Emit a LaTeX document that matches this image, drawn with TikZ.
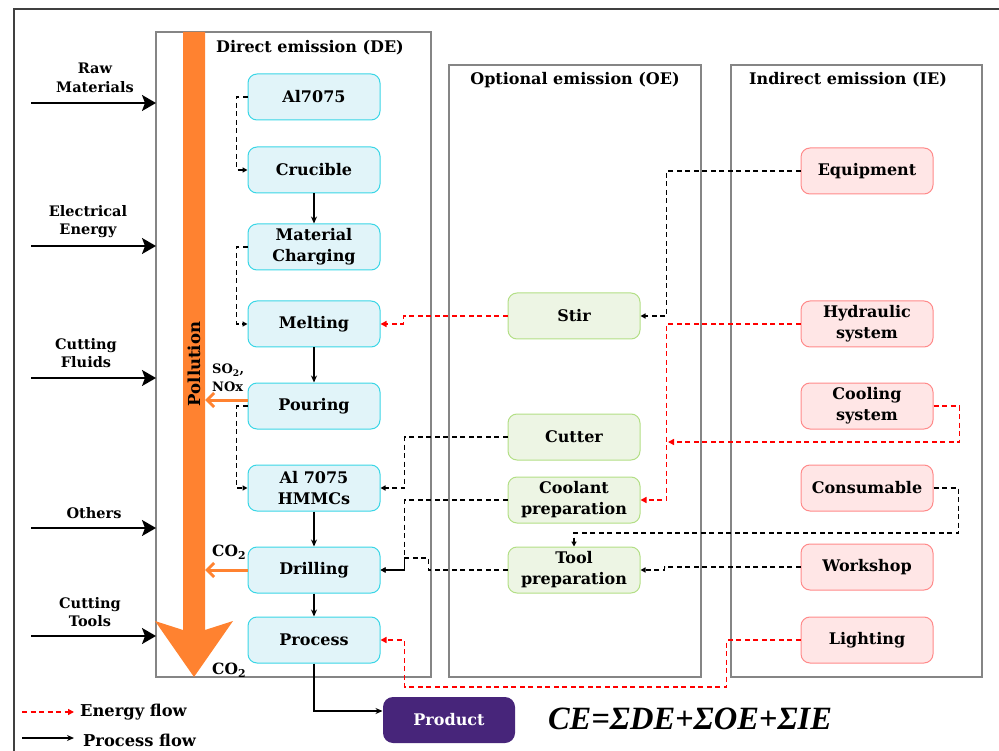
\documentclass[tikz,border=0pt]{standalone}
\usepackage{fontspec}
\setmainfont{DejaVu Serif}
\newfontfamily\formfont{Liberation Serif}
\usetikzlibrary{arrows.meta}
\definecolor{deFill}{HTML}{E1F4F9}
\definecolor{deLine}{HTML}{3AD6E6}
\definecolor{oeFill}{HTML}{EDF5E4}
\definecolor{oeLine}{HTML}{B3DF86}
\definecolor{ieFill}{HTML}{FFE6E6}
\definecolor{ieLine}{HTML}{FF8A8A}
\definecolor{prodFill}{HTML}{47257A}
\definecolor{poll}{HTML}{FF8230}
\definecolor{boxgray}{HTML}{858585}
\definecolor{framegray}{HTML}{404040}
\begin{document}
\begin{tikzpicture}[x=1pt,y=-1pt,
  every node/.style={font=\bfseries\fontsize{16}{21}\selectfont, align=center, inner sep=0pt},
  procbox/.style={draw, rounded corners=9pt, minimum width=132pt, minimum height=46pt, line width=1pt},
  debox/.style={procbox, fill=deFill, draw=deLine},
  oebox/.style={procbox, fill=oeFill, draw=oeLine},
  iebox/.style={procbox, fill=ieFill, draw=ieLine},
  grp/.style={draw=boxgray, line width=1.2pt},
  ef/.style={red, line width=1.9pt, dash pattern=on 5pt off 3.5pt, -{Triangle[length=6pt,width=6pt]}},
  bf/.style={black, line width=1.8pt, dash pattern=on 5pt off 3.5pt, -{Triangle[length=5pt,width=5pt]}},
  pf/.style={black, line width=1.3pt, -{Stealth[length=7pt,width=6pt]}},
  inarrow/.style={line width=1.8pt, -{Stealth[length=14pt,width=16pt,inset=3pt]}},
  emis/.style={poll, line width=3pt, -{Straight Barb[length=7pt,width=14pt]}},
  lbl/.style={font=\bfseries\fontsize{14.5}{18.5}\selectfont},
  gas/.style={anchor=west, align=left, font=\bfseries\fontsize{13}{18}\selectfont},
  ttl/.style={font=\bfseries\fontsize{16}{20}\selectfont}
]
\useasboundingbox (0,0) rectangle (999,751);
% outer frame
\draw[framegray, line width=2pt] (14,751) -- (14,9) -- (999,9);
% group boxes
\draw[grp] (156,32) rectangle (431,677);
\draw[grp] (449,65) rectangle (701,677);
\draw[grp] (731,65) rectangle (982,677);
\node[ttl] (tde) at (310,48) {Direct emission (DE)};
\node[ttl] (toe) at (575,80) {Optional emission (OE)};
\node[ttl] (tie) at (848,80) {Indirect emission (IE)};
% pollution arrow
\fill[poll] (183,32) -- (205,32) -- (205,630) -- (233,621) -- (194,677) -- (155,621) -- (183,630) -- cycle;
\node[rotate=90, font=\bfseries\fontsize{16.5}{20}\selectfont] (pol) at (194,364) {Pollution};
% DE nodes
\node[debox] (al)   at (314,97)  {Al7075};
\node[debox] (cru)  at (314,170) {Crucible};
\node[debox] (mc)   at (314,247) {Material\\Charging};
\node[debox] (melt) at (314,324) {Melting};
\node[debox] (pour) at (314,406) {Pouring};
\node[debox] (hmmc) at (314,488) {Al 7075\\HMMCs};
\node[debox] (drill) at (314,570) {Drilling};
\node[debox] (proc) at (314,640) {Process};
% OE nodes
\node[oebox] (stir)  at (574,316) {Stir};
\node[oebox] (cut)   at (574,437) {Cutter};
\node[oebox] (coolp) at (574,500) {Coolant\\preparation};
\node[oebox] (toolp) at (574,570) {Tool\\preparation};
% IE nodes
\node[iebox] (equip) at (867,171) {Equipment};
\node[iebox] (hyd)   at (867,324) {Hydraulic\\system};
\node[iebox] (cools) at (867,406) {Cooling\\system};
\node[iebox] (cons)  at (867,488) {Consumable};
\node[iebox] (work)  at (867,567) {Workshop};
\node[iebox] (light) at (867,640) {Lighting};
% product and formula
\node[procbox, draw=none, fill=prodFill, text=white, rounded corners=10pt] (prod) at (449,720) {Product};
\node[font=\formfont\bfseries\itshape\fontsize{32.5}{36}\selectfont] (ce) at (690,719) {CE=ΣDE+ΣOE+ΣIE};
% process flow
\draw[pf] (cru.south) -- (mc.north);
\draw[pf] (melt.south) -- (pour.north);
\draw[pf] (hmmc.south) -- (drill.north);
\draw[pf] (drill.south) -- (proc.north);
\draw[pf] (proc.south) |- ([yshift=9pt]prod.west);
% dashed material flows in DE
\draw[bf] (al.west) -- ++(-11,0) |- (cru.west);
\draw[bf] (mc.west) -- ++(-11,0) |- (melt.west);
\draw[bf] (pour.west) -- ++(-11,0) |- (hmmc.west);
% emissions
\coordinate (b1) at (205,400);
\coordinate (b2) at (205,570);
\draw[emis] ([yshift=6pt]pour.west) -- (b1);
\draw[emis] (drill.west) -- (b2);
\node[gas] (g1) at (212,378) {SO\textsubscript{2},\\NOx};
\node[gas, font=\bfseries\fontsize{15.5}{18}\selectfont] (g2) at (212,552) {CO\textsubscript{2}};
\node[gas, font=\bfseries\fontsize{15.5}{18}\selectfont] (g3) at (212,670) {CO\textsubscript{2}};
% OE to DE
\draw[ef] (stir.west) -- ++(-104,0) |- (melt.east);
\draw[bf] (cut.west) -- ++(-103,0) |- (hmmc.east);
\draw[bf] (coolp.west) -- ++(-103,0) |- (drill.east);
\draw[bf] (toolp.west) -- ++(-79,0) -- ++(0,-12) -- ++(-24,0) -- ++(0,12) -- (drill.east);
% IE to OE
\draw[bf] (equip.west) -| ([xshift=26pt]stir.east) -- (stir.east);
\draw[ef] (hyd.west) -| ([xshift=26pt]coolp.east) -- (coolp.east);
\coordinate (cj) at (668,442);
\draw[ef] (cools.east) -- ++(26,0) |- (cj);
\draw[bf] (cons.east) -- ++(25,0) -- ++(0,45) -| (toolp.north);
\draw[bf] (work.west) -- ++(-136,0) -- ++(0,3) -- (toolp.east);
\draw[ef] (light.west) -- ++(-74,0) -- ++(0,47) -| ([xshift=24pt]proc.east) -- (proc.east);
% inputs
\coordinate (i1a) at (31,103);  \coordinate (i1b) at (156,103);
\coordinate (i2a) at (31,246);  \coordinate (i2b) at (156,246);
\coordinate (i3a) at (31,378);  \coordinate (i3b) at (156,378);
\coordinate (i4a) at (31,528);  \coordinate (i4b) at (156,528);
\coordinate (i5a) at (31,636);  \coordinate (i5b) at (156,636);
\draw[inarrow] (i1a) -- (i1b);
\draw[inarrow] (i2a) -- (i2b);
\draw[inarrow] (i3a) -- (i3b);
\draw[inarrow] (i4a) -- (i4b);
\draw[inarrow] (i5a) -- (i5b);
\node[lbl] (l1) at (95,78) {Raw\\Materials};
\node[lbl] (l2) at (88,221.5) {Electrical\\Energy};
\node[lbl] (l3) at (86,353) {Cutting\\Fluids};
\node[lbl] (l4) at (94,513) {Others};
\node[lbl] (l5) at (90,612) {Cutting\\Tools};
% legend
\coordinate (e1) at (22,712); \coordinate (e2) at (74,712);
\coordinate (p1) at (22,738); \coordinate (p2) at (74,738);
\draw[ef] (e1) -- (e2);
\draw[pf] (p1) -- (p2);
\node[anchor=west, font=\bfseries\fontsize{16.3}{20}\selectfont] (le) at (80,712) {Energy flow};
\node[anchor=west, font=\bfseries\fontsize{16.3}{20}\selectfont] (lp) at (83,740) {Process flow};
\end{tikzpicture}
\end{document}
